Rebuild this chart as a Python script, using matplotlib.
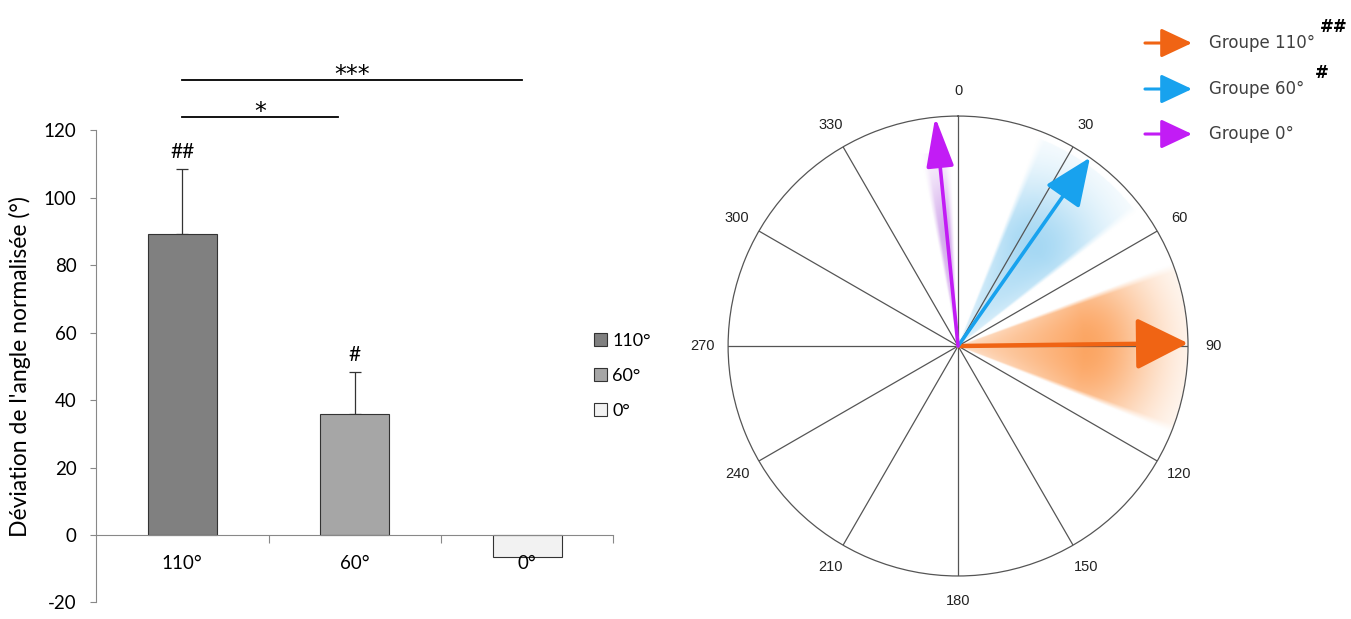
import matplotlib.pyplot as plt
import numpy as np
from matplotlib.colors import to_rgb

plt.rcParams["axes.unicode_minus"] = False

# left panel: normalised angle deviation per group
conditions = ["110°", "60°", "0°"]
mean_dev = [89.2, 35.8, -6.5]
sem_dev = [19.3, 12.5, 0.0]
hash_marks = ["##", "#", ""]
bar_colors = ["#808080", "#a6a6a6", "#f2f2f2"]
sig_pairs = [(0, 0.9, "*"), (0, 1.97, "***")]
sig_heights = [124, 135]

# right panel: mean heading (deg, clockwise from north) and spread per group
group_names = ["Groupe 110°", "Groupe 60°", "Groupe 0°"]
group_marks = ["##", "#", ""]
group_angle = [89.3, 35.0, -5.7]
spread_lo = [70, 22, -10]
spread_hi = [111, 52, -3]
arrow_colors = ["#f06414", "#18a2ee", "#c21cf5"]
shade_colors = ["#fb8f3c", "#5cb8ea", "#a855d8"]
shade_alpha = [0.8, 0.55, 0.5]
shade_rmax = [1.0, 0.97, 0.85]
compass_ticks = list(range(0, 360, 30))


def spread_image(n=700):
    xs = np.linspace(-1, 1, n)
    X, Y = np.meshgrid(xs, xs)
    r = np.hypot(X, Y)
    bearing = np.degrees(np.arctan2(X, Y))
    rgb = np.ones((n, n, 3))
    for k in range(len(group_names)):
        mid = 0.5 * (spread_lo[k] + spread_hi[k])
        half = 0.5 * (spread_hi[k] - spread_lo[k])
        d = (bearing - mid + 180) % 360 - 180
        u = np.abs(d) / half
        edge = np.clip((half - np.abs(d)) / 2.0 + 0.5, 0, 1)
        angular = edge * (1 - 0.25 * np.clip(u, 0, 1) ** 2)
        rr = r / shade_rmax[k]
        radial = np.where(rr < 0.55, 0.4 + 0.6 * rr / 0.55,
                          np.exp(-((rr - 0.55) / 0.32) ** 2))
        radial[rr > 1] = 0
        a = (shade_alpha[k] * angular * radial)[..., None]
        rgb = rgb * (1 - a) + np.array(to_rgb(shade_colors[k])) * a
    alpha = (r <= 1).astype(float)[..., None]
    return np.concatenate([rgb, alpha], axis=2)


def main() -> None:
    fig = plt.figure(figsize=(13.51, 6.19), dpi=100)

    # ---- bar chart ----
    ax = fig.add_axes([0.0711, 0.0267, 0.383, 0.763])
    x = np.arange(len(conditions))
    bars = ax.bar(x, mean_dev, width=0.4, color=bar_colors,
                  edgecolor="#333333", linewidth=0.8, zorder=2)
    for i in range(len(conditions)):
        if sem_dev[i] > 0:
            ax.errorbar(x[i], mean_dev[i], yerr=[[0], [sem_dev[i]]], fmt="none",
                        ecolor="#333333", elinewidth=0.9, capsize=4,
                        capthick=0.9, zorder=1)
        if hash_marks[i]:
            ax.text(x[i], mean_dev[i] + sem_dev[i] + 5, hash_marks[i],
                    ha="center", va="center", fontsize=15, family="Lato")
        ax.text(x[i], -8.3, conditions[i], ha="center", va="center",
                fontsize=13.5, family="Lato")

    for (i, j, label), h in zip(sig_pairs, sig_heights):
        ax.plot([i, j], [h, h], color="black", lw=1.3, clip_on=False)
        ax.text((i + j) / 2, h + 1.5, label, ha="center", va="center",
                fontsize=17, family="DejaVu Sans")

    ax.set_xlim(-0.5, 2.5)
    ax.set_ylim(-20, 120)
    ax.set_yticks(range(-20, 121, 20))
    ax.set_xticks([0.5, 1.5, 2.5])
    ax.set_xticklabels([])
    for lab in ax.get_yticklabels():
        lab.set_family("Lato")
        lab.set_fontsize(13.5)
    ax.tick_params(axis="y", length=4, color="#888888", pad=10)
    ax.tick_params(axis="x", length=6, color="#888888")
    ax.spines["top"].set_visible(False)
    ax.spines["right"].set_visible(False)
    ax.spines["bottom"].set_position(("data", 0))
    ax.spines["left"].set_color("#888888")
    ax.spines["bottom"].set_color("#888888")
    ax.set_ylabel("Déviation de l'angle normalisée (°)", fontsize=16.5,
                  family="Lato")
    ax.yaxis.set_label_coords(-0.125, 0.5)
    ax.legend(bars, conditions, loc="center left",
              bbox_to_anchor=(0.93, 0.48), frameon=False,
              handlelength=0.75, handleheight=0.75, handletextpad=0.3,
              labelspacing=1.05, prop={"family": "Lato", "size": 13})

    # ---- circular plot ----
    rect = [0.5389, 0.0695, 0.3405, 0.743]
    iax = fig.add_axes(rect)
    iax.imshow(spread_image(), extent=(-1, 1, -1, 1), origin="lower",
               interpolation="bilinear")
    iax.set_xlim(-1, 1)
    iax.set_ylim(-1, 1)
    iax.axis("off")

    pax = fig.add_axes(rect, projection="polar")
    pax.patch.set_alpha(0)
    pax.set_theta_zero_location("N")
    pax.set_theta_direction(-1)
    pax.set_ylim(0, 1)
    pax.set_yticks([])
    pax.set_xticks(np.deg2rad(compass_ticks))
    pax.set_xticklabels([])
    pax.grid(True, color="#555555", lw=0.9)
    pax.spines["polar"].set_color("#555555")
    pax.spines["polar"].set_linewidth(0.9)
    for t in compass_ticks:
        pax.text(np.deg2rad(t), 1.11, str(t), ha="center", va="center",
                 fontsize=10.5, family="Liberation Sans", color="#222222")

    head = [(1.9, 0.95, 3.2), (1.75, 0.75, 2.6), (1.8, 0.5, 2.6)]
    for k in range(len(group_names)):
        hl, hw, lw = head[k]
        pax.annotate("", xy=(np.deg2rad(group_angle[k]), 1.0), xytext=(0, 0),
                     arrowprops=dict(arrowstyle=f"-|>,head_length={hl},head_width={hw}",
                                     color=arrow_colors[k], lw=lw,
                                     mutation_scale=17, shrinkA=0, shrinkB=0),
                     zorder=5)

    # legend of the circular plot
    leg_y = [0.9305, 0.8562, 0.7835]
    for k in range(len(group_names)):
        fig.add_artist(plt.Annotation(
            "", xy=(0.8823, leg_y[k]), xytext=(0.8475, leg_y[k]),
            xycoords="figure fraction", textcoords="figure fraction",
            arrowprops=dict(arrowstyle="-|>,head_length=1.6,head_width=0.75",
                            color=arrow_colors[k], lw=2.2,
                            mutation_scale=12, shrinkA=0, shrinkB=0)))
        fig.text(0.895, leg_y[k], group_names[k], ha="left", va="center",
                 fontsize=12, color="#404040")
    fig.text(0.9875, 0.956, group_marks[0], ha="center", va="center",
             fontsize=12, fontweight="bold")
    fig.text(0.9785, 0.882, group_marks[1], ha="center", va="center",
             fontsize=12, fontweight="bold")

    fig.savefig("out.png", dpi=100, facecolor="white")


if __name__ == "__main__":
    main()
